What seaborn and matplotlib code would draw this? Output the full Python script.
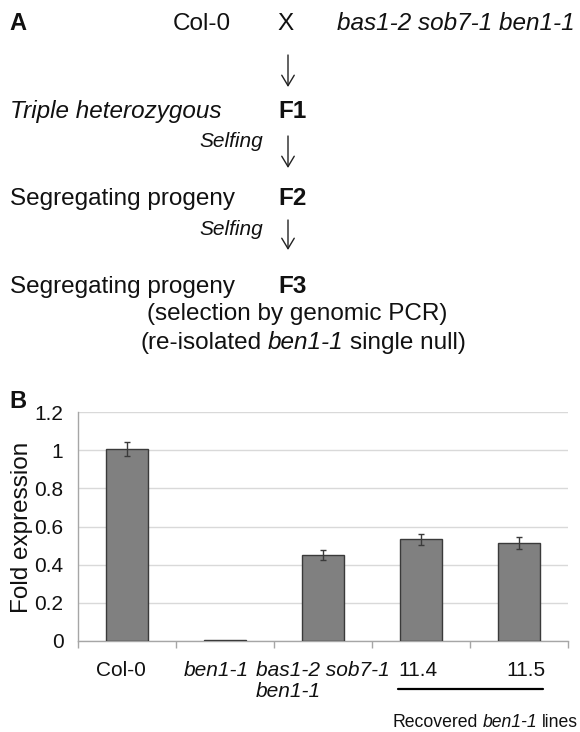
import matplotlib
matplotlib.use("Agg")
import matplotlib.pyplot as plt
import seaborn as sns
import pandas as pd
import numpy as np
from matplotlib.lines import Line2D
from matplotlib.patches import FancyArrowPatch

# ---- data ----
categories = ["Col-0", "ben1-1", "bas1-2 sob7-1\nben1-1", "11.4", "11.5"]
fold_expression = [1.005, 0.005, 0.450, 0.532, 0.513]
error = [0.037, 0.0, 0.025, 0.031, 0.031]
yticks = [0, 0.2, 0.4, 0.6, 0.8, 1.0, 1.2]
ytick_labels = ["0", "0.2", "0.4", "0.6", "0.8", "1", "1.2"]
italic_labels = [False, True, True, False, False]

sns.set_theme(style="white")
plt.rcParams["font.family"] = ["Liberation Sans", "DejaVu Sans"]
plt.rcParams["text.color"] = "#111111"
plt.rcParams["axes.labelcolor"] = "#111111"
plt.rcParams["xtick.color"] = "#111111"
plt.rcParams["ytick.color"] = "#111111"

W, H = 580, 732
fig = plt.figure(figsize=(W / 100, H / 100), dpi=100)
fig.patch.set_facecolor("white")

# ---- panel B: bar chart ----
ax = fig.add_axes([78 / W, 1 - 641 / H, (568 - 78) / W, (641 - 412) / H])
df = pd.DataFrame({"sample": categories, "value": fold_expression})
sns.barplot(data=df, x="sample", y="value", color="#808080", edgecolor="#3a3a3a",
            linewidth=1, width=0.42, saturation=1, errorbar=None, ax=ax, zorder=3)
err = np.array(error)
xs = np.arange(len(categories))
m = err > 0
ax.errorbar(xs[m], np.array(fold_expression)[m], yerr=err[m], fmt="none",
            ecolor="#3a3a3a", elinewidth=1, capsize=2.5, capthick=1, zorder=4)

ax.set_xlim(-0.5, len(categories) - 0.5)
ax.set_ylim(0, 1.2)
ax.set_yticks(yticks)
ax.set_yticklabels(ytick_labels)
# label anchors slightly shifted (invisible major ticks), boundary minor ticks visible
label_shift = [-0.06, -0.09, 0.0, -0.035, 0.075]
ax.set_xticks(xs + np.array(label_shift))
ax.set_xticklabels(categories)
ax.set_xticks(np.arange(-0.5, len(categories), 1.0), minor=True)
ax.set_xlabel("")
ax.set_ylabel("")
ax.yaxis.grid(True, color="#d9d9d9", lw=1)
ax.xaxis.grid(False)
ax.set_axisbelow(True)
for s in ["top", "right"]:
    ax.spines[s].set_visible(False)
for s in ["left", "bottom"]:
    ax.spines[s].set_color("#a6a6a6")
    ax.spines[s].set_linewidth(1)
ax.tick_params(axis="x", which="major", length=0, pad=14.5, labelsize=15, labelcolor="#111111")
ax.tick_params(axis="x", which="minor", length=5, width=1, color="#a6a6a6", direction="out", bottom=True)
ax.tick_params(axis="y", which="major", length=0, pad=10.5, labelsize=15, labelcolor="#111111", left=False)
for lbl, it in zip(ax.get_xticklabels(), italic_labels):
    if it:
        lbl.set_fontstyle("italic")
    lbl.set_multialignment("left")
    lbl.set_linespacing(1.12)

fig.text(22 / W, 1 - 527 / H, "Fold expression", rotation=90, ha="center", va="center", fontsize=17.5)


def ftext(x, y, s, **kw):
    return fig.text(x / W, 1 - y / H, s, va="baseline", **kw)


renderer = fig.canvas.get_renderer()


def rich(x, y, parts, fontsize):
    """Place consecutive text runs (text, style) on one baseline."""
    space = fontsize * 0.278 * 100 / 72
    cx = x
    for txt, style in parts:
        if txt == " ":
            cx += space
            continue
        t = ftext(cx, y, txt, fontsize=fontsize, style=style)
        cx = t.get_window_extent(renderer).x1


BIG = 17.5
ftext(9, 30, "A", fontsize=17, fontweight="bold")
ftext(173, 30, "Col-0", fontsize=BIG)
ftext(286, 30, "X", fontsize=BIG, ha="center")
ftext(337, 30, "bas1-2 sob7-1 ben1-1", fontsize=BIG, style="italic")
ftext(10, 118, "Triple heterozygous", fontsize=BIG, style="italic")
ftext(278, 118, "F1", fontsize=BIG, fontweight="bold")
ftext(263, 147, "Selfing", fontsize=15, style="italic", ha="right")
ftext(10, 205, "Segregating progeny", fontsize=BIG)
ftext(278, 205, "F2", fontsize=BIG, fontweight="bold")
ftext(263, 235, "Selfing", fontsize=15, style="italic", ha="right")
ftext(10, 293, "Segregating progeny", fontsize=BIG)
ftext(278, 293, "F3", fontsize=BIG, fontweight="bold")
ftext(147, 320, "(selection by genomic PCR)", fontsize=BIG)
rich(140, 349, [("(re-isolated", "normal"), (" ", None), ("ben1-1", "italic"),
                (" ", None), ("single null)", "normal")], BIG)
ftext(9, 408, "B", fontsize=17, fontweight="bold")

for y0, y1 in [(55, 87), (136, 168), (220, 250)]:
    fig.add_artist(FancyArrowPatch((288 / W, 1 - y0 / H), (288 / W, 1 - y1 / H),
                                   transform=fig.transFigure,
                                   arrowstyle="->,head_length=0.5,head_width=0.3",
                                   mutation_scale=15, lw=1, color="#222222",
                                   shrinkA=0, shrinkB=0))

fig.add_artist(Line2D([398 / W, 543 / W], [1 - 689 / H, 1 - 689 / H],
                      transform=fig.transFigure, color="black", lw=1.6))
rich(392, 727, [("Recovered", "normal"), (" ", None), ("ben1-1", "italic"),
                (" ", None), ("lines", "normal")], 12.7)

fig.savefig("out.png", dpi=100)
